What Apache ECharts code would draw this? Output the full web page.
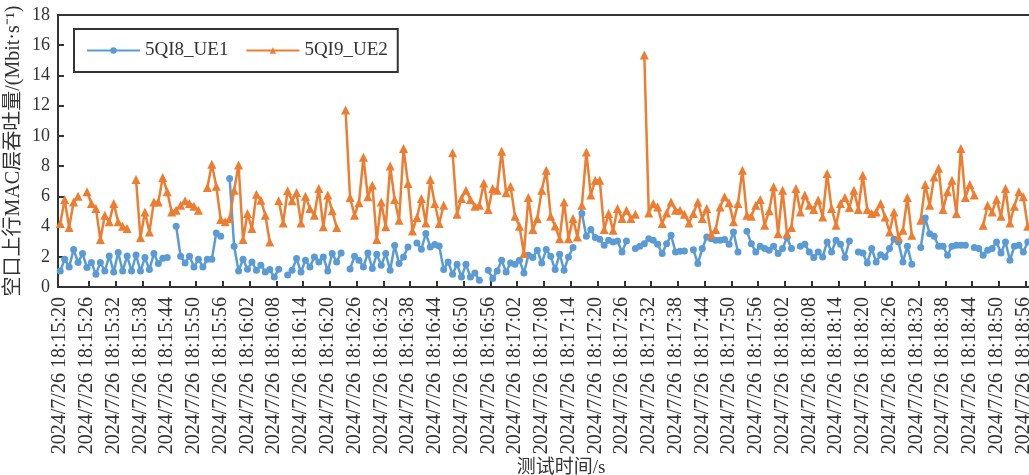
<!DOCTYPE html>
<html><head><meta charset="utf-8">
<script src="https://cdn.jsdelivr.net/npm/echarts@6/dist/echarts.min.js"></script>
<style>html,body{margin:0;padding:0;background:#fff}#c{width:1029px;height:475px}</style>
</head><body><div id="c"></div>
<script>
// ---- data ----
const datePart = '2024/7/26';
const startTime = [18, 15, 20];
const pointCount = 218; // one sample per second, 18:15:20 .. 18:18:57
const categories = [];
for (let k = 0; k < pointCount; k++) {
  const s = startTime[0] * 3600 + startTime[1] * 60 + startTime[2] + k;
  const h = Math.floor(s / 3600), m = Math.floor((s % 3600) / 60), ss = s % 60;
  categories.push(datePart + ' ' + h + ':' + String(m).padStart(2, '0') + ':' + String(ss).padStart(2, '0'));
}
const seriesNames = ['5QI8_UE1', '5QI9_UE2'];
const ue1 = [
1.06,1.83,1.33,2.48,1.62,2.21,1.29,1.62,0.84,1.62,
1.06,2.05,1.00,2.28,1.06,2.05,1.06,2.12,1.06,1.95,
1.15,2.21,1.55,1.90,1.95,null,4.02,2.03,1.59,2.03,
1.33,1.83,1.33,1.83,1.83,3.58,3.36,null,7.18,2.70,
1.06,1.83,1.17,1.66,1.11,1.44,1.00,1.15,0.66,1.17,
null,0.80,1.11,1.88,0.99,1.77,1.33,1.99,1.66,1.99,
1.06,2.21,1.66,2.25,null,1.19,2.03,1.77,1.33,2.25,
1.22,2.16,1.44,2.21,1.11,2.74,1.55,1.99,2.65,null,
2.92,2.50,3.54,2.65,2.81,2.72,1.15,1.66,0.84,1.50,
0.66,1.50,0.66,0.93,0.44,null,1.11,0.56,1.06,1.77,
0.99,1.59,1.50,1.77,0.93,2.10,1.95,2.43,1.59,2.48,
2.03,1.15,2.17,1.11,1.99,2.61,null,4.87,3.36,3.80,
3.27,3.16,2.76,3.09,2.98,3.05,2.32,3.05,null,2.54,
2.70,2.87,3.20,3.09,2.83,2.21,2.87,3.42,2.32,2.36,
2.39,null,2.47,1.55,2.54,3.31,3.20,3.09,3.09,3.14,
2.83,3.64,2.32,null,3.69,2.87,2.32,2.70,2.54,2.43,
2.70,2.21,2.54,3.27,2.54,null,2.70,2.83,2.32,1.95,
2.32,1.99,2.98,2.32,3.09,2.83,1.95,3.05,null,2.32,
2.25,1.59,2.54,1.66,2.14,1.99,2.54,3.16,2.98,1.66,
2.70,1.50,null,2.61,4.57,3.53,3.36,2.70,2.70,2.10,
2.70,2.76,2.76,2.76,null,2.61,2.54,2.10,2.43,2.54,
2.98,2.25,2.98,1.77,2.70,2.76,2.32,2.98
];
const ue2 = [
4.20,5.79,3.94,5.63,6.01,null,6.30,5.53,5.20,3.14,
4.75,4.31,5.53,4.31,4.02,3.87,null,7.12,3.27,4.97,
3.64,5.63,5.63,7.25,6.30,4.97,5.08,5.41,5.70,5.53,
5.35,5.08,null,6.59,8.13,6.67,4.47,4.31,4.53,6.41,
8.07,3.14,4.86,3.87,6.14,5.74,4.75,2.98,null,5.70,
4.24,6.37,5.70,6.25,4.24,6.01,5.20,4.75,6.52,3.98,
6.08,5.04,3.94,null,11.71,5.92,4.75,5.57,8.58,5.97,
6.74,3.14,5.63,3.98,8.00,5.79,4.42,9.17,6.85,3.71,
4.60,5.86,4.24,7.12,5.52,4.20,5.41,null,8.88,4.82,
5.86,6.41,5.79,5.35,5.41,6.89,5.13,6.52,6.41,8.99,
6.23,6.67,4.69,4.02,2.21,5.92,3.80,4.53,6.41,7.73,
4.69,4.03,3.20,5.63,3.20,4.53,3.31,5.41,8.93,6.08,
7.07,7.07,3.80,4.86,3.76,5.20,4.53,5.08,4.53,4.82,
null,15.35,4.90,5.52,5.30,4.20,4.90,5.63,5.08,5.08,
4.82,4.24,4.86,5.63,4.53,5.20,3.49,3.80,5.30,5.97,
5.57,4.31,5.52,7.73,4.75,4.69,5.41,5.79,4.09,5.04,
6.63,3.53,6.41,3.53,3.94,6.52,4.97,6.08,5.41,5.13,
5.75,4.64,7.51,5.19,4.09,5.52,5.92,5.26,6.41,5.13,
7.40,5.13,4.86,4.97,5.52,4.64,3.64,4.97,3.31,3.75,
5.92,3.42,null,4.42,6.78,5.41,7.28,7.86,5.13,6.30,
7.07,4.86,9.17,5.92,6.78,6.08,null,4.09,5.41,4.97,
5.80,4.69,6.52,4.24,5.35,6.30,5.97,4.02
];
const yMin = 0, yMax = 18, yStep = 2;
const xAxisTitle = '测试时间/s';
const yAxisTitle = '空口上行MAC层吞吐量/(Mbit·s⁻¹)';

// ---- chart ----
const serif = '"Liberation Serif","Times New Roman","Noto Sans CJK SC",serif';
const ink = '#333333';
const chart = echarts.init(document.getElementById('c'), null, {renderer: 'canvas'});
chart.setOption({
  animation: false,
  backgroundColor: '#ffffff',
  grid: {left: 58, top: 15, bottom: 188, width: 972, containLabel: false, outerBoundsMode: 'none',
         show: true, borderColor: ink, borderWidth: 2, backgroundColor: 'transparent'},
  legend: {
    left: 74, top: 29, orient: 'horizontal',
    padding: [12, 10, 12, 12],
    borderColor: ink, borderWidth: 2,
    itemGap: 17, itemWidth: 53, itemHeight: 8,
    textStyle: {fontFamily: serif, fontSize: 19, color: ink},
    data: seriesNames
  },
  xAxis: {
    type: 'category', data: categories, boundaryGap: true,
    axisLine: {lineStyle: {color: ink, width: 2}},
    axisTick: {show: true, inside: true, length: 6, interval: function (i) { return i % 6 === 1 && i > 1; }, lineStyle: {color: ink, width: 2}},
    axisLabel: {interval: 5, rotate: 90, fontFamily: serif, fontSize: 20, color: ink, margin: 10},
    splitLine: {show: false},
    name: xAxisTitle, nameLocation: 'middle', nameGap: 172, nameMoveOverlap: false,
    nameTextStyle: {fontFamily: serif, fontSize: 19, color: ink, padding: [0, 0, 0, 34]}
  },
  yAxis: {
    type: 'value', min: yMin, max: yMax, interval: yStep,
    axisLine: {show: true, lineStyle: {color: ink, width: 2}},
    axisTick: {show: true, inside: true, length: 6, lineStyle: {color: ink, width: 2}},
    axisLabel: {fontFamily: serif, fontSize: 18, color: ink, margin: 8},
    splitLine: {show: false},
    name: yAxisTitle, nameLocation: 'middle', nameGap: 34, nameRotate: 90, nameMoveOverlap: false,
    nameTextStyle: {fontFamily: serif, fontSize: 20, color: ink}
  },
  series: [
    {name: seriesNames[0], type: 'line', data: ue1, symbol: 'circle', symbolSize: 7, showAllSymbol: true, connectNulls: false,
     lineStyle: {width: 2.5, color: '#5B9BD5'}, itemStyle: {color: '#5B9BD5'}},
    {name: seriesNames[1], type: 'line', data: ue2, symbol: 'triangle', symbolSize: 9, showAllSymbol: true, connectNulls: false,
     lineStyle: {width: 2.5, color: '#ED7D31'}, itemStyle: {color: '#ED7D31'}}
  ]
});
</script></body></html>
